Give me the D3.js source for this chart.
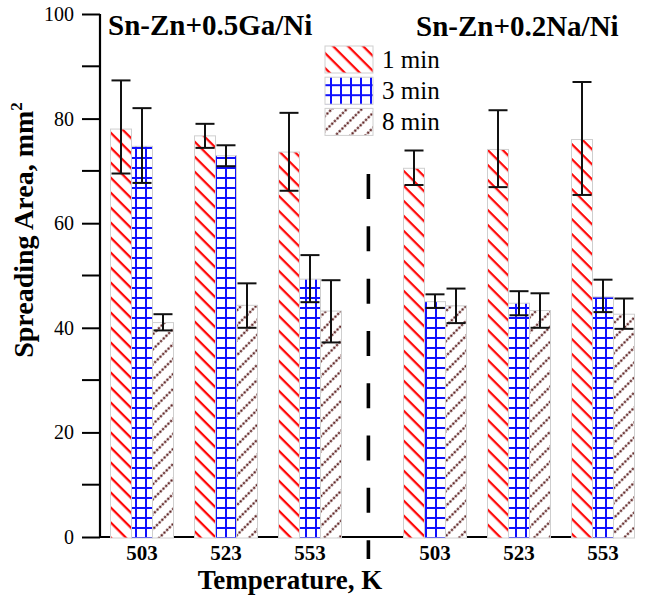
<!DOCTYPE html>
<html><head><meta charset="utf-8">
<script src="https://cdn.jsdelivr.net/npm/d3@7"></script>
<style>body{margin:0;background:#fff}svg{display:block}text{font-family:"Liberation Serif","Times New Roman",serif}</style>
</head><body><div id="chart"></div>
<script>
// ---- data ----
const alloys = ["Sn-Zn+0.5Ga/Ni", "Sn-Zn+0.2Na/Ni"];
const temperatures = ["503", "523", "553"];
const series = ["1 min", "3 min", "8 min"];
// values[alloy][series][temperature]
const gaMean = [[78.0, 76.7, 73.6], [74.7, 72.9, 49.3], [41.0, 44.3, 43.2]];
const gaLow  = [[69.5, 74.4, 66.2], [67.7, 70.9, 44.9], [39.5, 40.0, 37.2]];
const gaHigh = [[87.3, 79.0, 81.1], [82.0, 74.9, 53.9], [42.6, 48.5, 49.1]];
const naMean = [[70.5, 74.1, 76.0], [45.0, 44.7, 45.9], [44.2, 43.3, 42.6]];
const naLow  = [[67.3, 66.9, 65.4], [43.8, 42.4, 43.0], [40.9, 40.0, 39.8]];
const naHigh = [[73.9, 81.6, 87.0], [46.4, 47.0, 49.2], [47.5, 46.6, 45.6]];
const yTicks = [0, 20, 40, 60, 80, 100];
const yMinorTicks = [10, 30, 50, 70, 90];
const yLabel = "Spreading Area, mm";
const xLabel = "Temperature, K";

const means = [gaMean, naMean], lows = [gaLow, naLow], highs = [gaHigh, naHigh];
const rows = [];
alloys.forEach((a, ai) => series.forEach((s, si) => temperatures.forEach((t, ti) => {
  rows.push({alloy: a, series: s, temp: t, v: means[ai][si][ti], lo: lows[ai][si][ti], hi: highs[ai][si][ti]});
})));

// ---- layout ----
const W = 649, H = 603;
const FONT = '"Liberation Serif","Times New Roman",serif';
const svg = d3.select("#chart").append("svg").attr("width", W).attr("height", H);
const defs = svg.append("defs");

const y = d3.scaleLinear().domain([0, 100]).range([537, 14]);
const xOuter = d3.scaleBand().domain(alloys).range([100, 645]).paddingInner(0.14);
const xInner = d3.scaleBand().domain(temperatures).range([0, xOuter.bandwidth()]).paddingInner(0.25).paddingOuter(0.125);
const xSeries = d3.scaleBand().domain(series).range([0, xInner.bandwidth()]);
const axisEnd = 625;

// patterns
const p1 = defs.append("pattern").attr("id", "pat0").attr("patternUnits", "userSpaceOnUse")
  .attr("width", 10).attr("height", 10.6).attr("patternTransform", "rotate(45)");
p1.append("rect").attr("width", 10).attr("height", 10.6).attr("fill", "#fff");
p1.append("line").attr("x1", 0).attr("x2", 10).attr("y1", 5).attr("y2", 5).attr("stroke", "#ff0000").attr("stroke-width", 2.2);

const p2 = defs.append("pattern").attr("id", "pat1").attr("patternUnits", "userSpaceOnUse")
  .attr("width", 10).attr("height", 10).attr("x", 1).attr("y", 3);
p2.append("rect").attr("width", 10).attr("height", 10).attr("fill", "#fff");
p2.append("line").attr("x1", 5).attr("x2", 5).attr("y1", 0).attr("y2", 10).attr("stroke", "#1010ff").attr("stroke-width", 2);
p2.append("line").attr("x1", 0).attr("x2", 10).attr("y1", 5).attr("y2", 5).attr("stroke", "#1010ff").attr("stroke-width", 2);

const p3 = defs.append("pattern").attr("id", "pat2").attr("patternUnits", "userSpaceOnUse")
  .attr("width", 3.8).attr("height", 10.6).attr("patternTransform", "rotate(-45)");
p3.append("rect").attr("width", 3.8).attr("height", 10.6).attr("fill", "#fff");
p3.append("circle").attr("cx", 1.9).attr("cy", 5.3).attr("r", 1.3).attr("fill", "#5e2222");

const patFor = s => `url(#pat${series.indexOf(s)})`;

// axes lines
const g = svg.append("g");
g.append("line").attr("x1", 100).attr("x2", axisEnd).attr("y1", y(0)).attr("y2", y(0))
  .attr("stroke", "#000").attr("stroke-width", 2.2);

// bars
const bx = d => xOuter(d.alloy) + xInner(d.temp) + xSeries(d.series);
g.selectAll("rect.bar").data(rows).join("rect").attr("class", "bar")
  .attr("x", bx).attr("width", xSeries.bandwidth())
  .attr("y", d => y(d.v)).attr("height", d => y(0) - y(d.v) + 1)
  .attr("fill", d => patFor(d.series)).attr("stroke", "#cfcfcf").attr("stroke-width", 1);

// error bars
const cap = 9.5;
const eb = g.selectAll("g.err").data(rows).join("g").attr("class", "err")
  .attr("stroke", "#111").attr("stroke-width", 2).attr("fill", "none");
eb.append("line").attr("x1", d => bx(d) + xSeries.bandwidth() / 2).attr("x2", d => bx(d) + xSeries.bandwidth() / 2)
  .attr("y1", d => y(d.hi)).attr("y2", d => y(d.lo));
eb.append("line").attr("x1", d => bx(d) + xSeries.bandwidth() / 2 - cap).attr("x2", d => bx(d) + xSeries.bandwidth() / 2 + cap)
  .attr("y1", d => y(d.hi)).attr("y2", d => y(d.hi));
eb.append("line").attr("x1", d => bx(d) + xSeries.bandwidth() / 2 - cap).attr("x2", d => bx(d) + xSeries.bandwidth() / 2 + cap)
  .attr("y1", d => y(d.lo)).attr("y2", d => y(d.lo));

// y axis
const yAxis = d3.axisLeft(y).tickValues(yTicks).tickSize(18).tickPadding(8).tickFormat(d3.format("d"));
const ya = svg.append("g").attr("transform", "translate(100,0)").call(yAxis).attr("font-family", FONT);
ya.select(".domain").attr("stroke-width", 2.2).attr("d", `M0,${y(100)}V${y(0)}`);
ya.selectAll(".tick line").attr("stroke-width", 2);
ya.selectAll(".tick text").attr("font-size", 20).attr("fill", "#000").attr("font-family", FONT);
ya.selectAll("line.minor").data(yMinorTicks).join("line").attr("class", "minor")
  .attr("x1", -18).attr("x2", 0).attr("y1", d => y(d)).attr("y2", d => y(d)).attr("stroke", "#000").attr("stroke-width", 2);

// x tick labels
alloys.forEach(a => temperatures.forEach(t => {
  svg.append("text").attr("x", xOuter(a) + xInner(t) + xInner.bandwidth() / 2).attr("y", 560)
    .attr("text-anchor", "middle").attr("font-size", 21).attr("font-weight", "bold").attr("font-family", FONT).text(t);
}));

// divider
const divX = xOuter(alloys[0]) + xOuter.bandwidth() + 0.4 * (xOuter(alloys[1]) - xOuter(alloys[0]) - xOuter.bandwidth());
svg.append("line").attr("x1", divX).attr("x2", divX).attr("y1", y(69.4)).attr("y2", y(-4.2))
  .attr("stroke", "#000").attr("stroke-width", 3.6).attr("stroke-dasharray", "25 27.3");

// titles
svg.append("text").attr("x", 108).attr("y", 35).attr("font-size", 29).attr("font-weight", "bold").attr("font-family", FONT).text(alloys[0]);
svg.append("text").attr("x", 416).attr("y", 36).attr("font-size", 29).attr("font-weight", "bold").attr("font-family", FONT).text(alloys[1]);

// axis titles
svg.append("text").attr("x", 290).attr("y", 589).attr("text-anchor", "middle").attr("font-size", 27).attr("font-weight", "bold").attr("font-family", FONT).text(xLabel);
const yt = svg.append("text").attr("transform", "translate(33,230) rotate(-90)").attr("text-anchor", "middle")
  .attr("font-size", 28).attr("font-weight", "bold").attr("font-family", FONT);
yt.append("tspan").text(yLabel);
yt.append("tspan").attr("font-size", 17).attr("dy", -11).text("2");

// legend
const lg = svg.append("g").attr("transform", "translate(325,46)");
series.forEach((s, i) => {
  const r = lg.append("g").attr("transform", `translate(0,${i * 31.2})`);
  r.append("rect").attr("width", 48).attr("height", 27).attr("fill", patFor(s)).attr("stroke", "#cfcfcf").attr("stroke-width", 1);
  r.append("text").attr("x", 57).attr("y", 22).attr("font-size", 25).attr("font-family", FONT).text(s);
});
</script></body></html>
